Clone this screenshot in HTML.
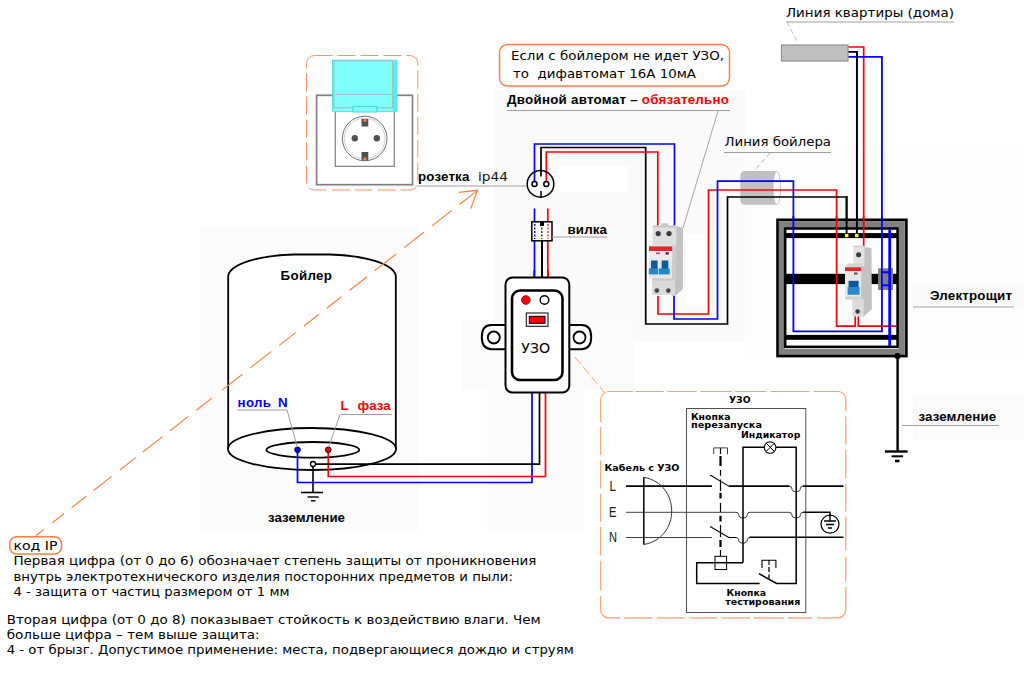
<!DOCTYPE html>
<html lang="ru">
<head>
<meta charset="utf-8">
<title>Схема подключения бойлера</title>
<style>
html,body{margin:0;padding:0;background:#fff;}
body{width:1024px;height:683px;overflow:hidden;position:relative;}
svg{position:absolute;left:0;top:0;display:block;}
.ab{font-family:"Liberation Sans",sans-serif;font-weight:bold;}
.vd{font-family:"DejaVu Sans","Liberation Sans",sans-serif;}
.vb{font-family:"DejaVu Sans","Liberation Sans",sans-serif;font-weight:bold;}
.w{fill:none;stroke-width:1.7;stroke-linejoin:miter;}
.bl{stroke:#0000ff;}
.rd{stroke:#ff0000;}
.bk{stroke:#000;}
.gl{stroke:#a0a0a0;stroke-width:1;fill:none;}
</style>
</head>
<body>
<svg width="1024" height="683" viewBox="0 0 1024 683">
<!-- BG -->
<g id="bg">
<rect x="0" y="0" width="1024" height="683" fill="#ffffff"/>
<rect x="200" y="226" width="219" height="304" fill="#fbfbfb"/>
<rect x="494" y="90" width="251" height="252" fill="#fafafa"/>
<rect x="462" y="320" width="172" height="70" fill="#fbfbfb"/>
<rect x="487" y="390" width="97" height="140" fill="#fcfcfc"/>
<rect x="745" y="150" width="279" height="207" fill="#fdfdfd"/>
<rect x="913" y="285" width="111" height="22" fill="#fafafa"/>
<rect x="913" y="395" width="111" height="45" fill="#fbfbfb"/>
<rect x="557.500" y="166" width="71" height="26.500" fill="#ffffff"/>
<rect x="686" y="234" width="19" height="71" fill="#ffffff"/>
</g>

<!-- SOCKET PHOTO -->
<g id="socket">
<rect x="306.500" y="55.500" width="111.300" height="134.500" rx="8" fill="none" stroke="#ff9060" stroke-width="1" stroke-dasharray="18 5"/>
<rect x="316.600" y="95.300" width="95.900" height="89.400" fill="#fff" stroke="#808080" stroke-width="1.700"/>
<rect x="335.300" y="108" width="59" height="58.300" fill="#fff" stroke="#808080" stroke-width="1.200"/>
<circle cx="364.700" cy="138.500" r="22.300" fill="#fff" stroke="#606060" stroke-width="0.900"/>
<circle cx="364.700" cy="138.500" r="20.300" fill="none" stroke="#d0d0d0" stroke-width="1"/>
<circle cx="354.800" cy="138.200" r="3.200" fill="#505050"/>
<circle cx="376.800" cy="138.200" r="3.200" fill="#505050"/>
<rect x="361.500" y="119" width="6.800" height="7.500" fill="#505050"/>
<rect x="363.300" y="119.300" width="3.200" height="2.400" fill="#ff8040"/>
<rect x="361.500" y="152" width="6.800" height="8.400" fill="#505050"/>
<rect x="363.300" y="157.600" width="3.200" height="2.400" fill="#ff8040"/>
<rect x="332.500" y="60.200" width="64.500" height="51.200" fill="#80ffff" stroke="#40e8e8" stroke-width="1"/>
<rect x="393" y="60.200" width="4" height="51.200" fill="#50f0f0"/>
<rect x="334" y="60.800" width="58.700" height="47" fill="none" stroke="#a8b4b4" stroke-width="1.100"/>
<line x1="334" y1="94.600" x2="392.700" y2="94.600" stroke="#a0c4c4" stroke-width="1"/>
<rect x="353" y="106.400" width="23.800" height="5.600" fill="#80ffff" stroke="#40d8d8" stroke-width="1"/>
</g>
<text class="ab" x="418" y="180.500" font-size="13.330" fill="#000" textLength="51.300">розетка</text>
<text class="vd" x="478" y="180.500" font-size="12.800" fill="#101010" lengthAdjust="spacingAndGlyphs" textLength="30">ip44</text>
<line class="gl" x1="418" y1="186" x2="527" y2="186"/>


<!-- TOP NOTE -->
<rect x="499.500" y="44.500" width="230" height="41.500" rx="8" fill="#fff" stroke="#ff8040" stroke-width="1.500"/>
<text class="vd" x="511" y="59.500" font-size="12.800" lengthAdjust="spacingAndGlyphs" textLength="213">Если с бойлером не идет УЗО,</text>
<text class="vd" x="513" y="78" font-size="12.800" lengthAdjust="spacingAndGlyphs" textLength="183" xml:space="preserve">то  дифавтомат 16А 10мА</text>
<text class="ab" x="507" y="104" font-size="13.330" textLength="222"><tspan fill="#000">Двойной автомат – </tspan><tspan fill="#ff0000">обязательно</tspan></text>
<line class="gl" x1="507" y1="110.500" x2="730" y2="110.500"/>
<line x1="718" y1="111" x2="683" y2="228" stroke="#808080" stroke-width="0.700"/>

<!-- WIRES socket->breaker -->
<g class="w">
<polyline class="bl" points="534.500,181.500 534.500,144 674.500,144 674.500,226"/>
<polyline class="bk" points="541,176.500 541,147.500 645.700,147.500 645.700,324 727.500,324"/>
<polyline class="rd" points="546.300,181.500 546.300,152 657.800,152 657.800,226"/>
</g>
<!-- socket symbol -->
<g fill="none" stroke="#000" stroke-width="1.500">
<circle cx="540.500" cy="183.900" r="13.300"/>
<circle cx="534.500" cy="184" r="2.500" fill="#fff"/>
<circle cx="546.300" cy="184" r="2.500" fill="#fff"/>
<line x1="541" y1="191" x2="541" y2="197.200"/>
</g>
<!-- plug -->
<g class="w">
<line class="bl" x1="534.500" y1="208.500" x2="534.500" y2="278"/>
<line class="bk" x1="542" y1="241" x2="542" y2="278" stroke-width="2"/>
<line class="rd" x1="547.800" y1="208.500" x2="547.800" y2="278"/>
</g>
<rect x="531.800" y="221.800" width="20.200" height="19" fill="#fff" stroke="#000" stroke-width="1.500"/>
<line x1="534.700" y1="224" x2="534.700" y2="239" stroke="#0000ff" stroke-width="1.500" stroke-dasharray="2 1.500"/>
<line x1="541.800" y1="224" x2="541.800" y2="239" stroke="#000" stroke-width="1.200" stroke-dasharray="2 1.500"/>
<line x1="548" y1="224" x2="548" y2="239" stroke="#ff0000" stroke-width="1.200" stroke-dasharray="2 1.500"/>
<rect x="540" y="222" width="4" height="4" fill="#000"/>
<text class="ab" x="567.500" y="233.800" font-size="13.330" textLength="39.500">вилка</text>
<line class="gl" x1="552" y1="237" x2="607" y2="237"/>

<!-- DOUBLE BREAKER -->
<g id="brk2">
<polygon points="676,226 683,228 683,289 675,296 672,296 672,245 676,245" fill="#c2c2c2"/>
<rect x="652.800" y="225.500" width="23.600" height="20" fill="#dedede"/>
<rect x="652.800" y="225.500" width="23.600" height="2" fill="#cacaca"/>
<rect x="661.600" y="223.300" width="6.700" height="2.600" fill="#c4c4c4"/>
<circle cx="658.200" cy="233.600" r="2.600" fill="#3a3a3a"/>
<circle cx="669" cy="233.600" r="2.600" fill="#3a3a3a"/>
<rect x="649" y="245" width="23.400" height="33.500" fill="#e6e6e6"/>
<polygon points="672.400,245 676.400,247 676.400,279 672.400,278.500" fill="#cdcdcd"/>
<rect x="649" y="246.400" width="23.200" height="4.600" fill="#dc2a2a"/>
<rect x="649" y="251" width="23.400" height="9" fill="#ececec"/>
<rect x="656" y="252.500" width="4" height="1.600" fill="#707070"/>
<rect x="665.500" y="252.300" width="3.400" height="2.200" fill="#303030"/>
<rect x="651" y="260.500" width="6.600" height="8.500" fill="#0b5c9c"/>
<rect x="661.600" y="260.500" width="6.700" height="8.500" fill="#0b5c9c"/>
<rect x="648.800" y="268.400" width="9.400" height="6" fill="#2487c8"/>
<rect x="658.900" y="268.400" width="10.800" height="6" fill="#2487c8"/>
<rect x="652.200" y="278.500" width="22.800" height="16.500" fill="#dadada"/>
<rect x="652.200" y="278.500" width="22.800" height="2" fill="#c8c8c8"/>
<circle cx="656.900" cy="290.600" r="2.300" fill="#484848"/>
<circle cx="668.300" cy="290.600" r="2.300" fill="#484848"/>
</g>

<!-- conduit -->
<g id="conduit">
<path d="M745,171 H776.800 V204.800 H745 Q740.400,204.800 740.400,200 V176 Q740.400,171 745,171 Z" fill="#c0c0c0"/>
<ellipse cx="776.800" cy="187.900" rx="3.800" ry="16.600" fill="#fff" stroke="#c4c4c4" stroke-width="1"/>
</g>
<!-- WIRES breaker->panel -->
<g class="w">
<polyline class="rd" points="658,296 658,314 708.500,314 708.500,190 836.600,190 836.600,300"/>
<polyline class="bl" points="674,296 674,319 717.500,319 717.500,181.200 793.400,181.200 793.400,300"/>
<polyline class="bk" points="727.500,324.800 727.500,197 846.600,197 846.600,234"/>
</g>
<text class="vd" x="724.500" y="146" font-size="12.800" lengthAdjust="spacingAndGlyphs" textLength="106.500">Линия бойлера</text>
<line class="gl" x1="724" y1="152.500" x2="831" y2="152.500"/>
<line x1="770" y1="153" x2="754" y2="171" stroke="#a0a0a0" stroke-width="0.800" stroke-dasharray="5 3"/>

<!-- APARTMENT LINE -->
<text class="vd" x="786" y="16.500" font-size="12.800" lengthAdjust="spacingAndGlyphs" textLength="168">Линия квартиры (дома)</text>
<line class="gl" x1="786" y1="22" x2="954" y2="22"/>
<line x1="787" y1="22" x2="798" y2="43" stroke="#b0b0b0" stroke-width="0.800" stroke-dasharray="5 3"/>
<g class="w">
<polyline class="rd" points="848,47 863.700,47 863.700,246"/>
<polyline class="bk" points="848,51.800 856.900,51.800 856.900,220"/>
<polyline class="bl" points="848,56.800 881.900,56.800 881.900,300" stroke-width="1.800"/>
</g>
<rect x="781.500" y="45" width="66.500" height="16" fill="#c0c0c0" stroke="#909090" stroke-width="1.200"/>

<!-- PANEL -->
<g id="panel">
<rect x="781.350" y="224.200" width="120.550" height="127.800" fill="none" stroke="#808080" stroke-width="6"/>
<rect x="777.500" y="219.800" width="128.900" height="136.300" fill="none" stroke="#000" stroke-width="2.600"/>
<rect x="785.150" y="228.450" width="112.450" height="118.400" fill="#fff" stroke="#000" stroke-width="2.600"/>
<rect x="785" y="233.100" width="112.500" height="5" fill="#000"/>
<rect x="785" y="273.800" width="112.500" height="10.300" fill="#000"/>
<rect x="785" y="334.900" width="112.500" height="4.900" fill="#000"/>
<rect x="878.100" y="268.300" width="14.900" height="21.700" fill="#808080"/>
</g>
<!-- wires inside panel -->
<g class="w">
<polyline class="bl" points="793.400,216 793.400,331.300 881.900,331.300 881.900,216" stroke-width="1.800"/>
<polyline class="rd" points="836.600,216 836.600,326.100 855.200,326.100 855.200,315"/>
<polyline class="rd" points="858.300,315 858.300,326.100 896.200,326.100"/>
<line class="rd" x1="863.700" y1="216" x2="863.700" y2="247.500"/>
<line class="bk" x1="846.600" y1="196" x2="846.600" y2="234" stroke-width="1.900"/>
<line class="bk" x1="856.900" y1="51" x2="856.900" y2="234" stroke-width="1.900"/>
</g>
<rect x="844.900" y="233.800" width="3.500" height="3.400" fill="#ffff00"/>
<rect x="855" y="233.800" width="3.500" height="3.400" fill="#ffff00"/>
<line x1="889.700" y1="229.600" x2="889.700" y2="346.200" stroke="#0000ff" stroke-width="2.800"/>
<path d="M881.900,272.200 H889.700 M881.900,285.300 H889.700" stroke="#0000ff" stroke-width="2" fill="none"/>

<!-- SINGLE BREAKER -->
<g id="brk1">
<polygon points="861,265 864,247 871.500,248 871.800,309 863.700,316.600 861,316" fill="#c2c2c2"/>
<rect x="853.500" y="246" width="11" height="20" fill="#e2e2e2"/>
<rect x="853.500" y="245.700" width="11" height="1.500" fill="#cfcfcf"/>
<circle cx="858.600" cy="254.800" r="2.500" fill="#3a3a3a"/>
<polygon points="845,267 848,263.600 864,263.600 861,267" fill="#d4d4d4"/>
<rect x="845" y="267" width="16.200" height="32.500" fill="#e8e8e8"/>
<rect x="845" y="267.300" width="16.200" height="3.700" fill="#d62828"/>
<rect x="854" y="272.500" width="3.500" height="2" fill="#505050"/>
<rect x="848.600" y="280.800" width="10" height="6.500" fill="#0a5a9a"/>
<rect x="847.600" y="287" width="12" height="7.800" fill="#2a8acc"/>
<rect x="852.300" y="299" width="11.400" height="17.600" fill="#dcdcdc"/>
<rect x="845.500" y="296.500" width="15.500" height="3" fill="#d0d0d0"/>
<circle cx="857.600" cy="311.500" r="2.300" fill="#404040"/>
</g>
<text class="ab" x="930" y="300" font-size="13.330" textLength="82">Электрощит</text>
<line class="gl" x1="913" y1="307" x2="1014" y2="307"/>

<!-- PANEL GROUND -->
<circle cx="897.600" cy="356" r="3.100" fill="#000"/>
<g stroke="#000" fill="none">
<line x1="897.600" y1="356" x2="897.600" y2="451.500" stroke-width="2.400"/>
<line x1="885" y1="451.500" x2="907.600" y2="451.500" stroke-width="2.400"/>
<line x1="891.600" y1="456.300" x2="903" y2="456.300" stroke-width="2"/>
<line x1="895" y1="461" x2="899.500" y2="461" stroke-width="2.600"/>
</g>
<text class="ab" x="918.600" y="420.500" font-size="13.330" textLength="77.500">заземление</text>
<line class="gl" x1="902" y1="425.500" x2="999" y2="425.500"/>

<!-- BOILER -->
<g id="boiler" fill="none" stroke="#000" stroke-width="1.800">
<path d="M228.200,449 V277 C228.200,264.500 258,255.500 294,254.500 L330,254.500 C366,255.500 395.800,264.500 395.800,277 V449" fill="#fff"/>
<ellipse cx="312" cy="449" rx="84" ry="21" fill="#fff"/>
<ellipse cx="312.800" cy="449.800" rx="46.500" ry="7.800" stroke-width="1.800"/>
</g>
<text class="ab" x="280.500" y="279.500" font-size="13.330" textLength="51.500">Бойлер</text>
<text class="ab" y="407" font-size="13.330" fill="#0000ff"><tspan x="237.500" textLength="33.500">ноль</tspan><tspan x="278">N</tspan></text>
<polyline class="gl" points="237,410 287,410 297,446"/>
<text class="ab" y="409.500" font-size="13.330" fill="#ff0000"><tspan x="340.500">L</tspan><tspan x="357.500">фаза</tspan></text>
<polyline class="gl" points="392,414.500 340,414.500 329,446"/>
<!-- boiler wires -->
<g class="w">
<polyline class="bl" points="297.500,450 297.500,482.500 532,482.500 532,392"/>
<polyline class="rd" points="328.300,450 328.300,476.500 545.500,476.500 545.500,392"/>
<polyline class="bk" points="315,464.200 539.500,464.200 539.500,392"/>
</g>
<circle cx="297.500" cy="449.800" r="2.800" fill="#0000ff" stroke="#000" stroke-width="1"/>
<circle cx="328.300" cy="449.800" r="2.800" fill="#ff0000" stroke="#000" stroke-width="1"/>
<g stroke="#000" fill="none">
<line x1="313" y1="466" x2="313" y2="492.500" stroke-width="1.600"/>
<line x1="301" y1="492.500" x2="323" y2="492.500" stroke-width="1.600"/>
<line x1="307.500" y1="497" x2="318.800" y2="497" stroke-width="1.400"/>
<line x1="311" y1="500.800" x2="315.500" y2="500.800" stroke-width="1.400"/>
<circle cx="313" cy="464" r="2.500" fill="#fff" stroke-width="1.300"/>
</g>
<text class="ab" x="268" y="522" font-size="13.330" textLength="77">заземление</text>

<!-- IP ARROW -->
<g id="iparrow" stroke="#ff8040" fill="none" stroke-width="1.200">
<path d="M36.1,535.5 L44.0,529.3 M52.5,522.7 L63.9,513.8 M71.6,507.7 L86.2,496.3 M93.6,490.5 L111.7,476.4 M119.9,470.0 L135.7,457.6 M142.9,452.0 L162.6,436.6 M170.1,430.7 L188.4,416.4 M196.3,410.2 L211.8,398.1 M222.0,390.1 L242.4,374.2 M250.4,367.9 L271.5,351.4 M279.2,345.4 L295.6,332.6 M304.0,326.0 L319.0,314.3 M326.8,308.2 L341.4,296.8 M349.6,290.3 L367.1,276.7 M374.7,270.7 L396.0,254.1 M404.2,247.6 L423.8,232.3 M431.8,226.1 L451.8,210.4 M459.4,204.5 L477.2,190.6"/>
<polyline points="458.900,192.400 477.500,190.300 470.700,208.800"/>
</g>

<!-- UZO DEVICE -->
<g class="w">
<line class="bl" x1="534.300" y1="270" x2="534.300" y2="278"/>
<line class="bk" x1="541.800" y1="270" x2="541.800" y2="278"/>
<line class="rd" x1="548" y1="270" x2="548" y2="278"/>
</g>
<g id="uzo" fill="#fff" stroke="#000">
<path d="M506,325 H491.500 Q481.800,325 481.800,337.100 Q481.800,349.200 491.500,349.200 H506 Z" stroke-width="2"/>
<path d="M569,325 H581.500 Q591.200,325 591.200,337.100 Q591.200,349.200 581.500,349.200 H569 Z" stroke-width="2"/>
<circle cx="493.800" cy="337.500" r="6" stroke-width="1.800"/>
<circle cx="579.500" cy="337.500" r="6" stroke-width="1.800"/>
<rect x="505.500" y="277.500" width="63.800" height="115" rx="7" stroke-width="2"/>
<rect x="512" y="290.500" width="50.500" height="89.500" rx="8" stroke-width="2.600"/>
<circle cx="525.800" cy="300" r="4.300" fill="#ff0000" stroke="#a00000" stroke-width="1"/>
<circle cx="544.500" cy="300" r="4.300" stroke-width="1.400"/>
<rect x="526.300" y="313" width="21.700" height="13.300" stroke-width="1"/>
<rect x="529.300" y="316.300" width="15.700" height="7" fill="#ff0000" stroke-width="1"/>
</g>
<text class="vd" x="521.300" y="353" font-size="14" lengthAdjust="spacingAndGlyphs" textLength="28.700">УЗО</text>

<!-- SCHEMATIC -->
<g id="schem">
<line x1="575" y1="357" x2="604" y2="392" stroke="#ffa070" stroke-width="1" stroke-dasharray="9 4"/>
<path d="M608.7,391.5 H633.0 M635.6,391.5 H663.6 M667.4,391.5 H696.6 M700.4,391.5 H732.0 M735.0,391.5 H766.4 M770.2,391.5 H809.6 M813.4,391.5 H838.0 M608.7,617.8 H620.0 M624.0,617.8 H652.5 M656.8,617.8 H685.3 M689.5,617.8 H717.5 M721.3,617.8 H750.0 M753.8,617.8 H783.7 M787.6,617.8 H812.2 M817.4,617.8 H838.0 M600.7,399.5 V422.0 M600.7,427.0 V455.0 M600.7,460.5 V488.6 M600.7,494.0 V522.0 M600.7,527.0 V555.4 M600.7,560.7 V590.5 M600.7,595.8 V609.8 M845.8,399.5 V411.0 M845.8,416.6 V444.7 M845.8,450.0 V478.0 M845.8,483.4 V511.5 M845.8,516.8 V550.0 M845.8,557.0 V581.8 M845.8,587.0 V609.8 M600.7,399.5 A8,8 0 0 1 608.7,391.5 M838,391.5 A7.8,8 0 0 1 845.8,399.5 M845.8,609.8 A7.8,8 0 0 1 838,617.8 M608.7,617.8 A8,8 0 0 1 600.7,609.8" fill="none" stroke="#ffa070" stroke-width="1.200"/>
<rect x="686.500" y="408.500" width="119.300" height="204" fill="none" stroke="#505050" stroke-width="1"/>
<text class="vb" x="729" y="403" font-size="8.200" lengthAdjust="spacingAndGlyphs" textLength="21.500">УЗО</text>
<text class="vb" x="691" y="420" font-size="8.200" lengthAdjust="spacingAndGlyphs" textLength="39.500">Кнопка</text>
<text class="vb" x="691" y="428.300" font-size="8.200" lengthAdjust="spacingAndGlyphs" textLength="71">перезапуска</text>
<text class="vb" x="741" y="437.500" font-size="8.200" lengthAdjust="spacingAndGlyphs" textLength="59.300">Индикатор</text>
<text class="vb" x="604.500" y="470.600" font-size="8.200" lengthAdjust="spacingAndGlyphs" textLength="75">Кабель с УЗО</text>
<text class="vb" x="726.600" y="596.200" font-size="8.200" lengthAdjust="spacingAndGlyphs" textLength="39.500">Кнопка</text>
<text class="vb" x="725.300" y="605.200" font-size="8.200" lengthAdjust="spacingAndGlyphs" textLength="75">тестирования</text>
<g font-family="'Liberation Sans',sans-serif" font-size="14.500" fill="#181818">
<text x="609.500" y="491" textLength="6.500" lengthAdjust="spacingAndGlyphs">L</text>
<text x="609" y="516.500" textLength="7.500" lengthAdjust="spacingAndGlyphs">E</text>
<text x="609" y="542" textLength="8" lengthAdjust="spacingAndGlyphs">N</text>
</g>
<g fill="none" stroke="#000">
<!-- L -->
<path d="M626,486.100 H711.900 M728.800,486.100 H789.100 M803.100,486.100 H843.500" stroke-width="1.600"/>
<path d="M710.100,475 L728.800,486.100" stroke-width="1.100"/>
<path d="M789.1,486.1 Q791.5,486.1 791.8,488.3 A4.3,3.4 0 0 0 800.4,488.3 Q800.7,486.1 803.1,486.1" stroke-width="1" stroke="#303030"/>
<!-- E -->
<path d="M626,512.300 H736 M750,512.300 H789.100" stroke-width="1" stroke="#404040"/>
<path d="M736.0,512.3 Q738.4,512.3 738.7,514.5 A4.3,3.4 0 0 0 747.3,514.5 Q747.6,512.3 750.0,512.3 M789.1,512.3 Q791.5,512.3 791.8,514.5 A4.3,3.4 0 0 0 800.4,514.5 Q800.7,512.3 803.1,512.3" stroke-width="1" stroke="#303030"/>
<path d="M803.100,512.300 H830 V517" stroke-width="1.500"/>
<!-- N -->
<path d="M626,537.500 H711.900" stroke-width="1" stroke="#404040"/>
<path d="M710.100,526.500 L728.800,537.500 H736" stroke-width="1.100"/>
<path d="M736.0,537.5 Q738.4,537.5 738.7,539.7 A4.3,3.4 0 0 0 747.3,539.7 Q747.6,537.5 750.0,537.5" stroke-width="1" stroke="#303030"/>
<path d="M749.500,537.200 H843.500" stroke-width="1.600"/>
<!-- cable D -->
<line x1="643.800" y1="477.300" x2="643.800" y2="544.500" stroke-width="1.500"/>
<path d="M643.800,477.300 C681,484 681,538 643.800,544.500" stroke-width="1" stroke="#303030"/>
<!-- dashed link -->
<path d="M720.500,455.900 V466.100 M720.500,492.800 V498.600 M720.500,515.800 V521.500 M720.500,540 V547" stroke-width="2.200"/>
<path d="M720.500,448 V454 M720.500,469.900 V475.700 M720.500,479.500 V491 M720.500,503 V512 M720.500,525 V537 M720.500,550 V556" stroke-width="1.200"/>
<path d="M713.700,454.300 V447.900 H727.500 V454.300" stroke-width="1" stroke="#404040"/>
<!-- indicator loop -->
<path d="M743,562.700 V447.300 H764.800 M775.800,447.300 H796.200 V583.500 H776.600 L758.900,573.600" stroke-width="1.500"/>
<circle cx="770.100" cy="447.500" r="5.800" stroke-width="1.100" fill="#fff"/>
<path d="M766.400,443.400 L774.200,451.200 M774.200,443.400 L766.400,451.200" stroke-width="1"/>
<!-- coil -->
<path d="M743,562.700 H696.700 V583.500 H759.600" stroke-width="1.500"/>
<rect x="715" y="556.300" width="11.600" height="13.200" stroke-width="1" fill="#fff"/>
<line x1="715" y1="562.700" x2="726.600" y2="562.700" stroke-width="1.500"/>
<!-- test button -->
<path d="M762,568 V560.300 H775.900 V568 M769,560.300 V565" stroke-width="1.100"/>
<line x1="769" y1="567" x2="769" y2="578.500" stroke-width="1.300" stroke-dasharray="5 2.500"/>
<!-- ground symbol -->
<circle cx="830" cy="524.200" r="9" stroke-width="1.200" fill="#fff"/>
<path d="M830,515 V521 M824,521 H836 M826,524.500 H834 M828,528 H832" stroke-width="1.400"/>
</g>
</g>

<!-- BOTTOM TEXT -->
<rect x="9.700" y="536.700" width="51.800" height="17.300" rx="7" fill="#fff" stroke="#ff8040" stroke-width="1.500"/>
<g class="vd" font-size="11.800" fill="#000">
<text x="13.400" y="549.800" textLength="44" lengthAdjust="spacingAndGlyphs">код IP</text>
<text x="13.400" y="565.300" textLength="523" lengthAdjust="spacingAndGlyphs">Первая цифра (от 0 до 6) обозначает степень защиты от проникновения</text>
<text x="13.400" y="580.600" textLength="499.500" lengthAdjust="spacingAndGlyphs">внутрь электротехнического изделия посторонних предметов и пыли:</text>
<text x="13.400" y="595.900" textLength="276" lengthAdjust="spacingAndGlyphs">4 - защита от частиц размером от 1 мм</text>
<text x="6.700" y="623.800" textLength="534" lengthAdjust="spacingAndGlyphs">Вторая цифра (от 0 до 8) показывает стойкость к воздействию влаги. Чем</text>
<text x="6.700" y="638.800" textLength="253" lengthAdjust="spacingAndGlyphs">больше цифра – тем выше защита:</text>
<text x="6.700" y="654" textLength="567" lengthAdjust="spacingAndGlyphs">4 - от брызг. Допустимое применение: места, подвергающиеся дождю и струям</text>
</g>
</svg>
</body>
</html>
